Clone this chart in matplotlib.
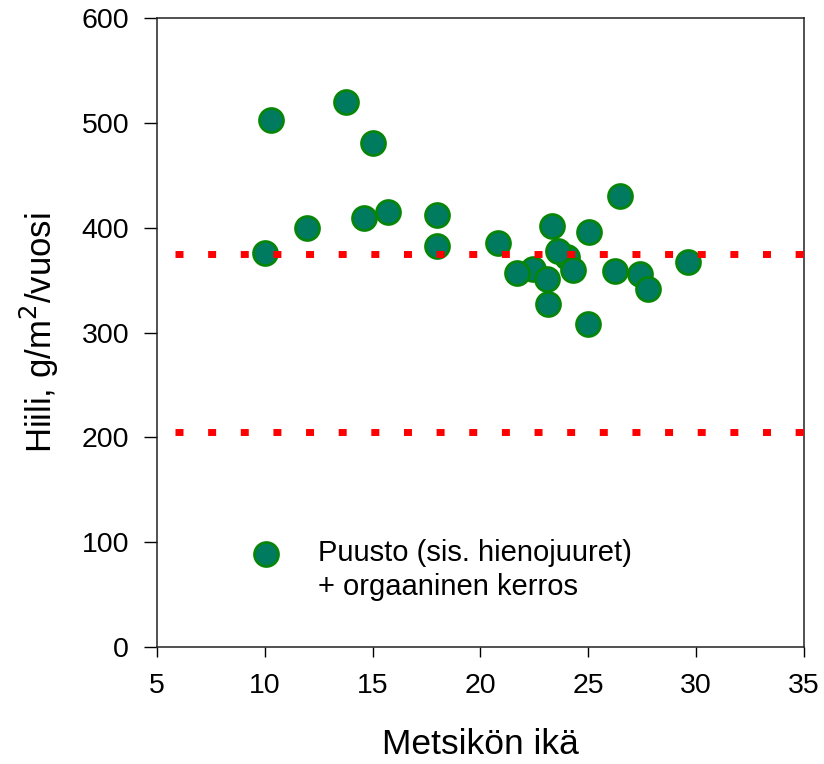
import numpy as np
import matplotlib
matplotlib.use("Agg")
import matplotlib.pyplot as plt
from matplotlib.lines import Line2D

plt.rcParams['font.family'] = ['Liberation Sans', 'DejaVu Sans']

# metsikön ikä (v) ja hiili (g/m2/vuosi)
ika = [10.0, 10.3, 11.97, 13.75, 14.6, 15.0, 15.7, 17.98, 17.98, 20.8,
       22.45, 21.7, 23.07, 23.12, 23.3, 24.0, 23.58, 24.27, 25.03, 24.97,
       26.47, 26.25, 27.38, 27.76, 29.62]
hiili = [376, 503, 400, 520, 409, 481, 415, 412, 383, 385,
         361, 357, 351, 327, 402, 372, 378, 360, 396, 308,
         430, 359, 356, 342, 367]

# vaakaviivat (pisteviiva)
viiva_tasot = [375, 205]
viiva_alku = 5.83
viiva_loppu = 35

xticks = [5, 10, 15, 20, 25, 30, 35]
yticks = [0, 100, 200, 300, 400, 500, 600]

fig = plt.figure(figsize=(8.24, 7.64), dpi=100)
ax = fig.add_axes([0.1905, 0.1531, 0.7852, 0.8233])

sc = ax.scatter(ika, hiili, s=300, c='#007b5f', edgecolors='#078507',
                linewidths=1.9, zorder=2)

for taso in viiva_tasot:
    ax.plot([viiva_alku, viiva_loppu], [taso, taso], color='#ff0000',
            lw=5.0, linestyle=(0, (1.15, 3.55)), dash_capstyle='butt',
            solid_capstyle='butt', zorder=3, clip_on=False)

ax.set_xlim(5, 35)
ax.set_ylim(0, 600)
ax.set_xticks(xticks)
ax.set_yticks(yticks)
ax.tick_params(direction='out', width=1.0, labelsize=20.5)
ax.tick_params(axis='x', length=7.2, pad=11.5)
ax.tick_params(axis='y', length=9.6, pad=10.5)
for sp in ax.spines.values():
    sp.set_linewidth(1.1)
    sp.set_color('#222222')

ax.set_xlabel('Metsikön ikä', fontsize=25.5, labelpad=21)
ax.set_ylabel('Hiili, g/m$^2$/vuosi', fontsize=25, labelpad=15)

tyhja = Line2D([], [], linestyle='none')
ax.legend([sc, tyhja], ['Puusto (sis. hienojuuret)', '+ orgaaninen kerros'],
          loc='upper left', bbox_to_anchor=(0.146, 0.171), frameon=False,
          fontsize=21, labelspacing=0.2, handletextpad=1.28,
          borderpad=0, borderaxespad=0, handlelength=1.0)

fig.savefig('out.png', dpi=100)
